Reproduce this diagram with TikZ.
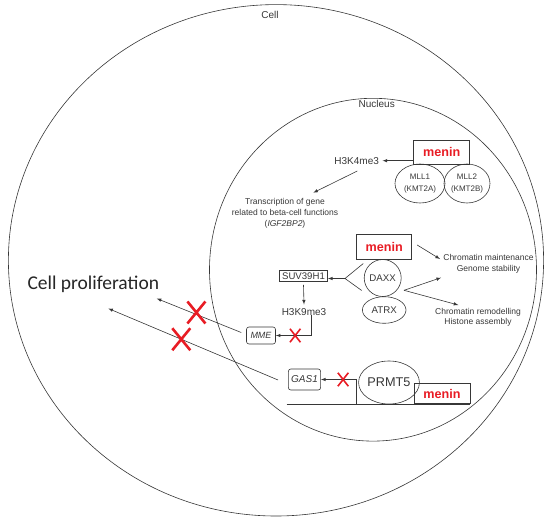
\documentclass[tikz,border=0pt]{standalone}
\usepackage{fontspec}
\setmainfont{Liberation Sans}
\newfontfamily\calibri{Carlito}
\usetikzlibrary{arrows, shapes.geometric, shapes.misc, calc}
\definecolor{meninred}{RGB}{232,28,36}
\definecolor{linegray}{RGB}{55,55,55}

\begin{document}
\begin{tikzpicture}[x=1pt, y=-1pt,
		>=latex,   % Pfeilspitzen
		line width=0.6pt, color=linegray,
		menin/.style={draw, rectangle, minimum width=56pt, minimum height=24pt, inner sep=0pt, text=meninred, font=\fontsize{12.6}{14}\selectfont\bfseries},
		lbl/.style={font=\fontsize{10}{12}\selectfont},
		note/.style={align=center, font=\fontsize{8.5}{11}\selectfont},
		protein/.style={draw, ellipse, inner sep=0pt, align=center, font=\fontsize{8}{11.5}\selectfont},
		gene/.style={draw, rounded corners=2.5pt, inner sep=0pt},
		bigx/.style={draw=meninred, cross out, line width=2.6pt, minimum width=18pt, minimum height=22pt, inner sep=0pt, outer sep=0pt},
		smallx/.style={draw=meninred, cross out, line width=1.6pt, minimum width=10.5pt, minimum height=13.5pt, inner sep=0pt, outer sep=0pt}]
		% Bildbereich
		\useasboundingbox (0,0) rectangle (550,523);
		% Zelle und Zellkern
		\draw (276,260.3) ellipse [x radius=267.6pt, y radius=255.7pt];
		\draw (373,269.7) ellipse [x radius=163.5pt, y radius=171.4pt];
		\node[lbl] (cellLbl) at (270,15) {Cell};
		\node[lbl] (nucLbl) at (376.7,104) {Nucleus};
		% menin mit MLL1/MLL2
		\node[protein, minimum width=50pt, minimum height=39pt] (mllA) at (420,183.5) {MLL1\\(KMT2A)};
		\node[protein, minimum width=46pt, minimum height=39pt] (mllB) at (467,183.5) {MLL2\\(KMT2B)};
		\node[menin] (menA) at (441.7,152.2) {menin};
		\node[lbl] (h3kA) at (356.7,160.7) {H3K4me3};
		\node[note] (trans) at (285,213) {Transcription of gene\\related to beta-cell functions\\(\textit{IGF2BP2})};
		% menin mit DAXX/ATRX
		\node[menin, minimum width=55pt, minimum height=25pt] (menB) at (384.2,246.8) {menin};
		\node[protein, circle, minimum size=37pt, font=\fontsize{9.7}{11}\selectfont] (daxx) at (382.7,278) {DAXX};
		\node[protein, minimum width=43.6pt, minimum height=26.6pt, font=\fontsize{9.7}{11}\selectfont] (atrx) at (384.2,310) {ATRX};
		\node[note, font=\fontsize{8.5}{10.2}\selectfont] (maint) at (488.5,263.7) {Chromatin maintenance\\Genome stability};
		\node[note, font=\fontsize{8.5}{10.6}\selectfont] (remod) at (478,317.2) {Chromatin remodelling\\Histone assembly};
		\node[draw, inner sep=0pt, minimum width=48.3pt, minimum height=11.7pt, font=\fontsize{9.6}{11}\selectfont] (suv) at (303.5,275.8) {SUV39H1};
		\node[lbl] (h3kB) at (304,311.7) {H3K9me3};
		\node[gene, minimum width=29pt, minimum height=17pt, font=\fontsize{9}{11}\selectfont\itshape] (mme) at (261,335.5) {MME};
		% menin mit PRMT5
		\node[gene, minimum width=32.3pt, minimum height=21pt, font=\fontsize{10}{12}\selectfont\itshape] (gas) at (304.5,379.5) {GAS1};
		\node[draw, ellipse, minimum width=47pt, minimum height=43pt, inner sep=0pt, font=\fontsize{12.7}{14}\selectfont] (prmt) at (389,382.5) {PRMT5};
		\node[menin, minimum height=20.5pt] (menC) at (442,393.5) {menin};
		\node[font=\calibri\fontsize{19.5}{22}\selectfont, text=black!85] (prolif) at (93.3,284.5) {Cell proliferation};
		% Pfeile
		\draw[->] (h3kA.east -| menA.west) -- (h3kA.east);
		\draw[->] ($(h3kA)+(0.6,10.3)$) -- ($(trans)+(28.3,-20.3)$);
		\draw[->] ($(menB)+(33,-1.8)$) -- ($(maint)+(-48.5,-4.7)$);
		\coordinate (fork) at (345,278.5);
		\draw ($(daxx)+(-19.4,-14.5)$) -- (fork) -- ($(daxx)+(-21,12.5)$);
		\draw[->] (fork) -- (fork -| suv.east);
		\coordinate (split) at (404,290.3);
		\draw[->] (split) -- ($(maint)+(-47.5,14)$);
		\draw[->] (split) -- ($(remod)+(-19.7,-12.2)$);
		\draw[->] ([yshift=-3pt]suv.south) -- (h3kB.north);
		\draw[->] ($(h3kB)+(7.7,3.3)$) |- (mme.east) node[smallx, pos=0.73] {};
		\draw[->] ($(mme.west)+(-5,-3)$) -- ($(prolif)+(63.4,14)$) node[bigx, pos=0.53, yshift=2pt] {};
		\draw[->] ($(gas.west)+(-10,0.5)$) -- ($(prolif)+(15,24)$) node[bigx, pos=0.57] {};
		% DNA
		\coordinate (dnaL) at (286.7,403.8);
		\coordinate (tss) at (356.7,403.8);
		\draw (dnaL) -- (dnaL -| menC.south east);
		\draw[->] (tss) |- (gas.east) node[smallx, pos=0.69] {};
\end{tikzpicture}
\end{document}
